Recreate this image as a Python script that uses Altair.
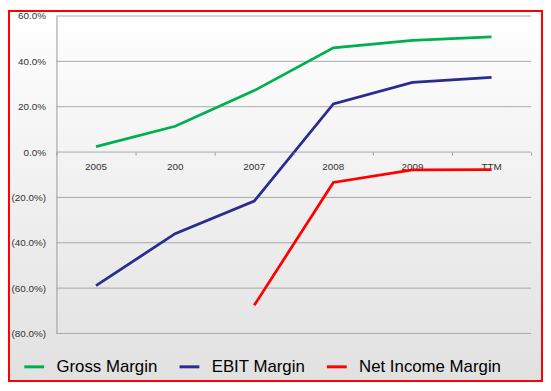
import altair as alt
import pandas as pd

categories = ["2005", "200", "2007", "2008", "2009", "TTM"]
gross_margin = [2.4, 11.4, 27.1, 46.0, 49.3, 50.8]
ebit_margin = [-58.9, -36.0, -21.6, 21.2, 30.7, 32.9]
net_income_margin = [None, None, -67.6, -13.4, -7.9, -7.7]
series_names = ["Gross Margin", "EBIT Margin", "Net Income Margin"]
series_colors = ["#00B050", "#2B2B90", "#FF0000"]
y_ticks = [-80, -60, -40, -20, 0, 20, 40, 60]

W, H = 480, 321
PAD_L, PAD_T, PAD_R, PAD_B = 49, 6, 12, 49
FONT = "Liberation Sans"

rows = []
for name, vals in zip(series_names, [gross_margin, ebit_margin, net_income_margin]):
    for c, v in zip(categories, vals):
        if v is not None:
            rows.append({"category": c, "value": v, "series": name})
df = pd.DataFrame(rows)
labels_df = pd.DataFrame({"category": categories, "zero": [0] * len(categories)})
grid_df = pd.DataFrame({"tick": y_ticks})
bg_df = pd.DataFrame({"a": [0]})

x_scale = alt.Scale(type="band", domain=categories, paddingInner=0, paddingOuter=0)
y_scale = alt.Scale(domain=[-80, 60], nice=False, zero=False)

x_axis = alt.Axis(
    labels=False, domain=False, grid=False, ticks=True, tickBand="extent",
    tickSize=3, tickColor="#9a9a9a", offset=-(H - H * 60 / 140), zindex=1, title=None,
)
y_axis = alt.Axis(
    values=y_ticks, grid=False, ticks=False, domain=True, domainColor="#9a9a9a",
    labelExpr="datum.value < 0 ? '(' + format(-datum.value, '.1f') + '%)' : format(datum.value, '.1f') + '%'",
    labelFont=FONT, labelFontSize=10, labelColor="#333333", labelPadding=11,
    zindex=1, title=None,
)

gradient = alt.LinearGradient(
    gradient="linear",
    stops=[alt.GradientStop(color="#ffffff", offset=0), alt.GradientStop(color="#e1e1e1", offset=1)],
    x1=0, x2=0, y1=0, y2=1,
)

bg = alt.Chart(bg_df).mark_rect(fill=gradient, stroke="#ff0000", strokeWidth=2).encode(
    x=alt.value(-PAD_L + 1), x2=alt.value(W + PAD_R - 1),
    y=alt.value(-PAD_T + 1), y2=alt.value(H + PAD_B - 1),
)

grid = alt.Chart(grid_df).mark_rule(color="#a8a8a8", strokeWidth=1).encode(
    y=alt.Y("tick:Q", scale=y_scale, axis=y_axis),
    x=alt.value(0), x2=alt.value(W),
)

xlabels = alt.Chart(labels_df).mark_text(
    dy=15, font=FONT, fontSize=10, color="#333333", baseline="middle"
).encode(
    x=alt.X("category:N", scale=x_scale, axis=x_axis, sort=categories),
    y=alt.Y("zero:Q", scale=y_scale, axis=y_axis),
    text="category:N",
)

lines = alt.Chart(df).mark_line(strokeWidth=2.8).encode(
    x=alt.X("category:N", scale=x_scale, axis=x_axis, sort=categories),
    y=alt.Y("value:Q", scale=y_scale, axis=y_axis),
    color=alt.Color(
        "series:N",
        scale=alt.Scale(domain=series_names, range=series_colors),
        legend=alt.Legend(
            title=None, orient="none", legendX=-34, legendY=343, direction="horizontal",
            symbolType="stroke", symbolSize=400, symbolStrokeWidth=3,
            labelFont=FONT, labelFontSize=17, labelColor="#000000", labelOffset=11,
            columnPadding=15,
        ),
    ),
    detail="series:N",
)

chart = alt.layer(bg, grid, xlabels, lines).properties(
    width=W, height=H,
    autosize=alt.AutoSizeParams(type="none"),
    padding={"left": PAD_L, "top": PAD_T, "right": PAD_R, "bottom": PAD_B},
).configure_view(stroke=None)

chart.save("out.html", embed_options={"renderer": "svg", "actions": False})
